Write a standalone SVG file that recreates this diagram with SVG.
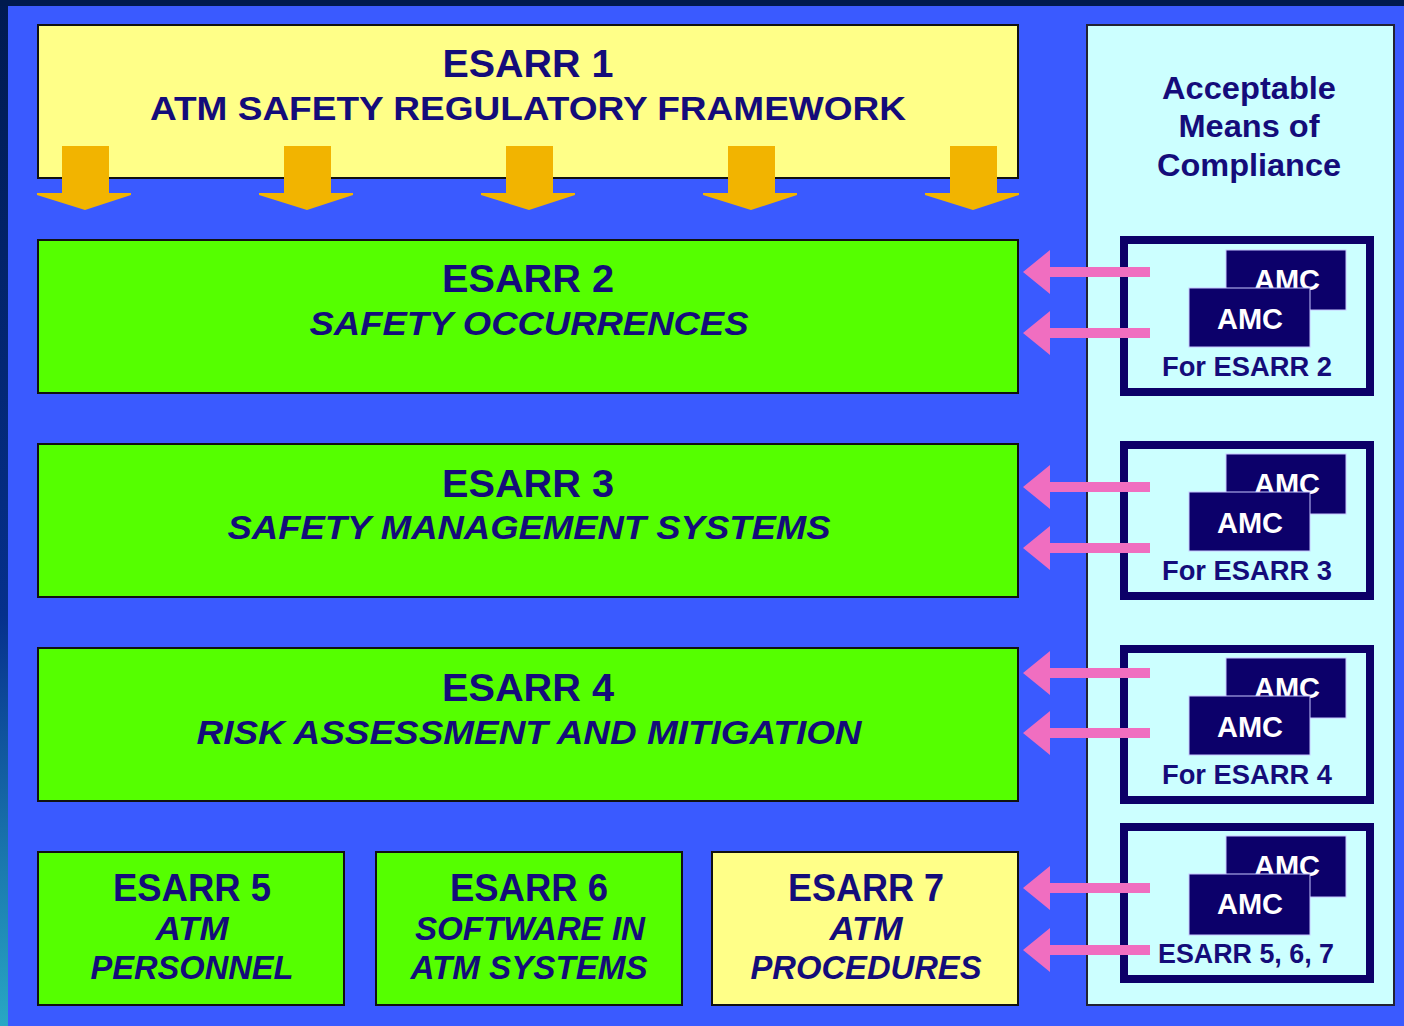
<svg xmlns="http://www.w3.org/2000/svg" width="1404" height="1026" viewBox="0 0 1404 1026">
  <defs>
    <linearGradient id="edgeGrad" x1="0" y1="0" x2="0" y2="1">
      <stop offset="0" stop-color="#001a50"/>
      <stop offset="0.6" stop-color="#05308c"/>
      <stop offset="1" stop-color="#28a8c4"/>
    </linearGradient>
    <!-- wide downward arrow used under ESARR 1 -->
    <polygon id="downArrow" points="-23,0 24,0 24,47 46,47 46,49 0,64 -48,49 -48,47 -23,47" fill="#f2b400"/>
    <!-- pink arrow pointing left, tip at origin -->
    <polygon id="leftArrow" points="0,0 27,-22 27,-5 127,-5 127,5 27,5 27,22" fill="#f06ec0"/>
  </defs>
  <style>
    .box { stroke: #111; stroke-width: 2; }
    .yellow { fill: #ffff88; }
    .green { fill: #55ff00; }
    .t { font-family: "Liberation Sans", Arial, sans-serif; font-weight: bold; fill: #140c7a; text-anchor: middle; }
    .h { font-size: 38px; }
    .s { font-size: 34px; font-style: italic; }
    .r { font-size: 31px; }
    .frame { fill: none; stroke: #0c0068; stroke-width: 8; }
    .card { fill: #0c006a; stroke: #c8c8ff; stroke-width: 1; }
    .amc { font-family: "Liberation Sans", Arial, sans-serif; font-weight: bold; fill: #ffffff; text-anchor: middle; font-size: 29px; }
  </style>

  <!-- backdrop -->
  <rect x="0" y="0" width="1404" height="1026" fill="#3a5aff"/>
  <rect x="0" y="0" width="8" height="1026" fill="url(#edgeGrad)"/>
  <rect x="0" y="0" width="1404" height="6" fill="#001a4e"/>

  <!-- right-hand panel -->
  <g id="amc-panel">
    <rect x="1087" y="25" width="307" height="980" fill="#ccffff" stroke="#223" stroke-width="2"/>
    <text class="t r" x="1249" y="99" textLength="174" lengthAdjust="spacingAndGlyphs">Acceptable</text>
    <text class="t r" x="1249" y="137" textLength="141" lengthAdjust="spacingAndGlyphs">Means of</text>
    <text class="t r" x="1249" y="176" textLength="184" lengthAdjust="spacingAndGlyphs">Compliance</text>
  </g>

  <!-- ESARR 1 -->
  <g id="esarr1">
    <rect class="box yellow" x="38" y="25" width="980" height="153"/>
    <text class="t h" x="528" y="77" textLength="171" lengthAdjust="spacingAndGlyphs">ESARR 1</text>
    <text class="t" x="528" y="120" font-size="34" textLength="756" lengthAdjust="spacingAndGlyphs">ATM SAFETY REGULATORY FRAMEWORK</text>
  </g>

  <!-- ESARR 2 -->
  <g id="esarr2">
    <rect class="box green" x="38" y="240" width="980" height="153"/>
    <text class="t h" x="528" y="292" textLength="172" lengthAdjust="spacingAndGlyphs">ESARR 2</text>
    <text class="t s" x="529" y="335" textLength="439" lengthAdjust="spacingAndGlyphs">SAFETY OCCURRENCES</text>
  </g>

  <!-- ESARR 3 -->
  <g id="esarr3">
    <rect class="box green" x="38" y="444" width="980" height="153"/>
    <text class="t h" x="528" y="497" textLength="172" lengthAdjust="spacingAndGlyphs">ESARR 3</text>
    <text class="t s" x="529" y="539" textLength="603" lengthAdjust="spacingAndGlyphs">SAFETY MANAGEMENT SYSTEMS</text>
  </g>

  <!-- ESARR 4 -->
  <g id="esarr4">
    <rect class="box green" x="38" y="648" width="980" height="153"/>
    <text class="t h" x="528" y="701" textLength="172" lengthAdjust="spacingAndGlyphs">ESARR 4</text>
    <text class="t s" x="529" y="744" textLength="665" lengthAdjust="spacingAndGlyphs">RISK ASSESSMENT AND MITIGATION</text>
  </g>

  <!-- ESARR 5 -->
  <g id="esarr5">
    <rect class="box green" x="38" y="852" width="306" height="153"/>
    <text class="t h" x="192" y="901" textLength="158" lengthAdjust="spacingAndGlyphs">ESARR 5</text>
    <text class="t s" x="192" y="940" textLength="73" lengthAdjust="spacingAndGlyphs">ATM</text>
    <text class="t s" x="192" y="979" textLength="203" lengthAdjust="spacingAndGlyphs">PERSONNEL</text>
  </g>

  <!-- ESARR 6 -->
  <g id="esarr6">
    <rect class="box green" x="376" y="852" width="306" height="153"/>
    <text class="t h" x="529" y="901" textLength="158" lengthAdjust="spacingAndGlyphs">ESARR 6</text>
    <text class="t s" x="530" y="940" textLength="230" lengthAdjust="spacingAndGlyphs">SOFTWARE IN</text>
    <text class="t s" x="529" y="979" textLength="237" lengthAdjust="spacingAndGlyphs">ATM SYSTEMS</text>
  </g>

  <!-- ESARR 7 -->
  <g id="esarr7">
    <rect class="box yellow" x="712" y="852" width="306" height="153"/>
    <text class="t h" x="866" y="901" textLength="156" lengthAdjust="spacingAndGlyphs">ESARR 7</text>
    <text class="t s" x="866" y="940" textLength="73" lengthAdjust="spacingAndGlyphs">ATM</text>
    <text class="t s" x="866" y="979" textLength="231" lengthAdjust="spacingAndGlyphs">PROCEDURES</text>
  </g>

  <!-- AMC groups -->
  <g id="amc2">
    <rect class="frame" x="1124" y="240" width="246" height="152"/>
    <rect class="card" x="1226" y="250" width="120" height="60"/>
    <text class="amc" x="1287" y="290">AMC</text>
    <rect class="card" x="1189" y="288" width="121" height="59"/>
    <text class="amc" x="1250" y="329">AMC</text>
    <text class="t" x="1247" y="376" font-size="27" textLength="170" lengthAdjust="spacingAndGlyphs">For ESARR 2</text>
  </g>
  <g id="amc3">
    <rect class="frame" x="1124" y="445" width="246" height="151"/>
    <rect class="card" x="1226" y="454" width="120" height="60"/>
    <text class="amc" x="1287" y="494">AMC</text>
    <rect class="card" x="1189" y="492" width="121" height="59"/>
    <text class="amc" x="1250" y="533">AMC</text>
    <text class="t" x="1247" y="580" font-size="27" textLength="170" lengthAdjust="spacingAndGlyphs">For ESARR 3</text>
  </g>
  <g id="amc4">
    <rect class="frame" x="1124" y="649" width="246" height="151"/>
    <rect class="card" x="1226" y="658" width="120" height="60"/>
    <text class="amc" x="1287" y="698">AMC</text>
    <rect class="card" x="1189" y="696" width="121" height="59"/>
    <text class="amc" x="1250" y="737">AMC</text>
    <text class="t" x="1247" y="784" font-size="27" textLength="170" lengthAdjust="spacingAndGlyphs">For ESARR 4</text>
  </g>
  <g id="amc567">
    <rect class="frame" x="1124" y="827" width="246" height="152"/>
    <rect class="card" x="1226" y="836" width="120" height="61"/>
    <text class="amc" x="1287" y="876">AMC</text>
    <rect class="card" x="1189" y="874" width="121" height="61"/>
    <text class="amc" x="1250" y="914">AMC</text>
    <text class="t" x="1246" y="963" font-size="27" textLength="176" lengthAdjust="spacingAndGlyphs">ESARR 5, 6, 7</text>
  </g>

  <!-- connectors -->
  <g id="connectors">
    <use href="#downArrow" x="85" y="146"/>
    <use href="#downArrow" x="307" y="146"/>
    <use href="#downArrow" x="529" y="146"/>
    <use href="#downArrow" x="751" y="146"/>
    <use href="#downArrow" x="973" y="146"/>

    <use href="#leftArrow" x="1023" y="272"/>
    <use href="#leftArrow" x="1023" y="333"/>
    <use href="#leftArrow" x="1023" y="487"/>
    <use href="#leftArrow" x="1023" y="548"/>
    <use href="#leftArrow" x="1023" y="673"/>
    <use href="#leftArrow" x="1023" y="733"/>
    <use href="#leftArrow" x="1023" y="888"/>
    <use href="#leftArrow" x="1023" y="950"/>
  </g>
</svg>
